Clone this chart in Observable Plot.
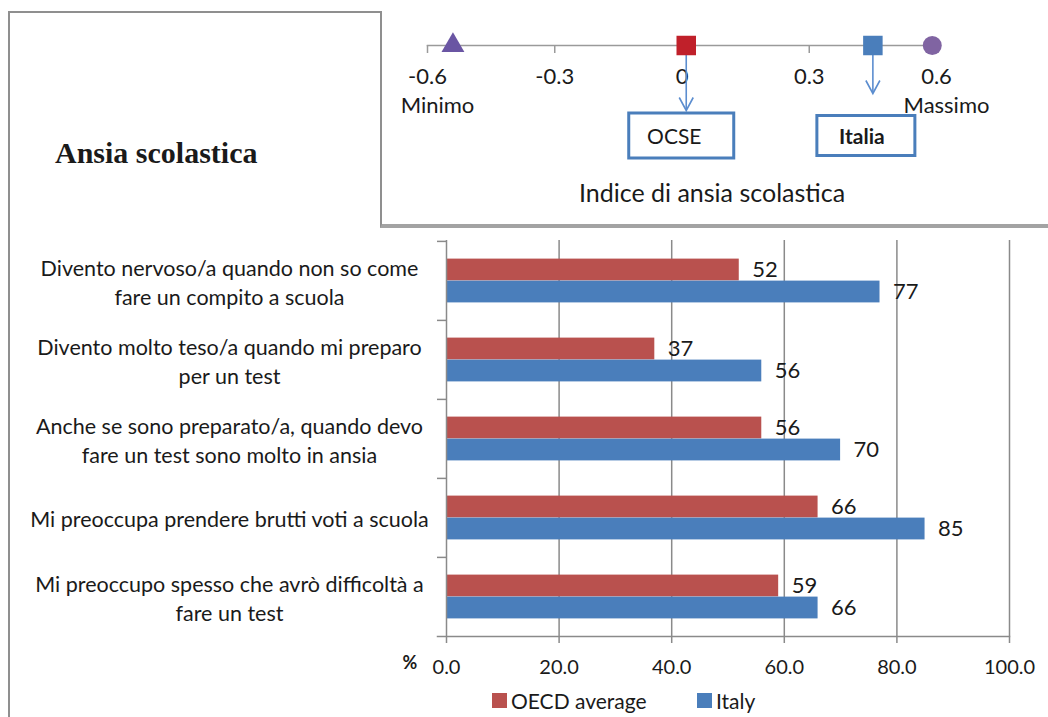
<!DOCTYPE html>
<html>
<head>
<meta charset="utf-8">
<script src="https://cdn.jsdelivr.net/npm/d3@7"></script>
<script src="https://cdn.jsdelivr.net/npm/@observablehq/plot@0.6"></script>
<style>
  html, body { margin: 0; padding: 0; background: #fff; }
  #page { position: relative; width: 1048px; height: 717px; overflow: hidden; background: #fff; font-family: Lato, "Open Sans", sans-serif; color: #1a1a1a; }
  #outer { position: absolute; left: 8px; top: 11px; width: 1048px; height: 720px; border-left: 2px solid #8f8f8f; border-top: 2px solid #8f8f8f; }
  #main, #inset { position: absolute; }
  #main { left: 0; top: 0; }
  #insetBox { position: absolute; left: 380px; top: 11px; width: 680px; height: 213px; border-left: 2px solid #8f8f8f; border-bottom: 4px solid #a3a3a3; background: #fff; }
  #inset { left: 380px; top: 12px; }
  #title { position: absolute; left: 55px; top: 136px; font-family: "Liberation Serif", serif; font-weight: bold; font-size: 30px; color: #1a1a1a; white-space: nowrap; }
  .leg { position: absolute; top: 688px; font-size: 21px; display: flex; align-items: center; white-space: nowrap; }
  .sw { width: 15px; height: 15px; margin-right: 4px; display: inline-block; }
</style>
</head>
<body>
<div id="page">
  <div id="outer"></div>
  <div id="main"></div>
  <div id="insetBox"></div>
  <div id="inset"></div>
  <div id="title">Ansia scolastica</div>
  <div id="legend"></div>
</div>
<script>
// ---------- data ----------
const categories = [
  "Divento nervoso/a quando non so come\nfare un compito a scuola",
  "Divento molto teso/a quando mi preparo\nper un test",
  "Anche se sono preparato/a, quando devo\nfare un test sono molto in ansia",
  "Mi preoccupa prendere brutti voti a scuola",
  "Mi preoccupo spesso che avrò difficoltà a\nfare un test"
];
const seriesNames = ["OECD average", "Italy"];
const oecdValues = [52, 37, 56, 66, 59];
const italyValues = [77, 56, 70, 85, 66];
const xTicks = [0, 20, 40, 60, 80, 100];
const axisUnit = "%";

// inset (index scale)
const insetTicks = [-0.6, -0.3, 0, 0.3, 0.6];
const insetTickLabels = ["-0.6", "-0.3", "0", "0.3", "0.6"];
const extremeNames = ["Minimo", "Massimo"];
const extremeValues = [-0.6, 0.6];
const markerNames = ["Minimo", "OCSE", "Italia", "Massimo"];
const markerValues = [-0.54, 0.01, 0.45, 0.59];
const pointerNames = ["OCSE", "Italia"];
const pointerValues = [0.01, 0.45];
const insetTitle = "Indice di ansia scolastica";

// ---------- styles ----------
const FONT = "Lato, 'Open Sans', sans-serif";
const seriesColors = ["#B9514E", "#4A7EBB"];
const markerShapes = ["triangle", "square", "square", "circle"];
const markerColors = ["#6A55A3", "#C0202A", "#4A7EBB", "#8064A2"];
const markerRadius = [8.5, 11, 11, 9.5];
const gridColor = "#8a8a8a";

// ---------- main chart ----------
const rows = [];
categories.forEach((c, i) => {
  rows.push({category: c, series: seriesNames[0], value: oecdValues[i]});
  rows.push({category: c, series: seriesNames[1], value: italyValues[i]});
});

const W = 1048, H = 717, mTop = 240, mBottom = 81, mLeft = 446, mRight = 39;
const step = (H - mTop - mBottom) / categories.length;
const barH = 22;
const half = step / 2;

const main = Plot.plot({
  width: W, height: H,
  marginTop: mTop, marginBottom: mBottom, marginLeft: mLeft, marginRight: mRight,
  style: {fontFamily: FONT, fontSize: "20px", color: "#1a1a1a", background: "transparent", overflow: "visible"},
  x: {domain: [xTicks[0], xTicks[xTicks.length - 1]]},
  y: {domain: categories, padding: 0},
  marks: [
    Plot.gridX(xTicks.slice(1), {stroke: gridColor, strokeOpacity: 1, strokeWidth: 1.5}),
    Plot.barX(rows.filter(d => d.series === seriesNames[0]), {
      y: "category", x: "value", fill: seriesColors[0],
      insetTop: half - barH, insetBottom: half
    }),
    Plot.barX(rows.filter(d => d.series === seriesNames[1]), {
      y: "category", x: "value", fill: seriesColors[1],
      insetTop: half, insetBottom: half - barH
    }),
    Plot.text(rows.filter(d => d.series === seriesNames[0]), {
      y: "category", x: "value", text: d => String(d.value),
      textAnchor: "start", dx: 13, dy: -barH / 2, fontSize: 22
    }),
    Plot.text(rows.filter(d => d.series === seriesNames[1]), {
      y: "category", x: "value", text: d => String(d.value),
      textAnchor: "start", dx: 13, dy: barH / 2, fontSize: 22
    }),
    Plot.ruleX([xTicks[0]], {stroke: gridColor, strokeWidth: 1.5}),
    Plot.frame({anchor: "bottom", insetLeft: -9, stroke: gridColor, strokeWidth: 1.5}),
    Plot.axisY({tickSize: 0, tickPadding: 0, textAnchor: "middle", dx: -217, lineHeight: 1.35, fontSize: 21.5, label: null}),
    Plot.axisY({tickSize: 9, tickFormat: () => "", dy: -half, stroke: gridColor, strokeWidth: 1.5, label: null}),
    Plot.axisX({ticks: xTicks, tickFormat: d3.format(".1f"), tickSize: 7, tickPadding: 16, stroke: gridColor, strokeWidth: 1.5, fontSize: 20, label: null}),
    Plot.text([axisUnit], {frameAnchor: "bottom-left", lineAnchor: "middle", dx: -44, dy: 27, fontWeight: "bold", fontSize: 18})
  ]
});
document.getElementById("main").appendChild(main);

// ---------- inset ----------
const IW = 668, IH = 212, iTop = 33, iBottom = 114, iLeft = 47, iRight = 112;
const frameH = IH - iTop - iBottom;
const vHead = {draw(ctx) { ctx.moveTo(-7, -13); ctx.lineTo(0, 0); ctx.lineTo(7, -13); }};
const boxSym = (w, h) => ({draw(ctx) { ctx.moveTo(-w/2, -h/2); ctx.lineTo(w/2, -h/2); ctx.lineTo(w/2, h/2); ctx.lineTo(-w/2, h/2); ctx.closePath(); }});
const arrowColor = "#5B8DCF";
const pointerLen = [0, 17];   // bottom inset of each pointer arrow
const boxSize = [[105, 45], [98, 40]];
const boxDx = [-5, -7];
const labelDx = [-12, -11];
const labelWeight = ["normal", "bold"];

const pointerMarks = [];
pointerNames.forEach((n, i) => {
  const d = [{name: n, value: pointerValues[i]}];
  pointerMarks.push(
    Plot.ruleX(d, {x: "value", insetTop: 10, insetBottom: pointerLen[i], stroke: arrowColor, strokeWidth: 1.6}),
    Plot.dot(d, {x: "value", frameAnchor: "bottom", dy: -pointerLen[i], symbol: vHead, r: 5, fill: "none", stroke: arrowColor, strokeWidth: 1.6}),
    Plot.dot(d, {x: "value", frameAnchor: "bottom", dy: 25, dx: boxDx[i], symbol: boxSym(...boxSize[i]), r: 5, fill: "none", stroke: "#4A7EBB", strokeWidth: 3}),
    Plot.text(d, {x: "value", text: "name", frameAnchor: "bottom", lineAnchor: "middle", dy: 27, dx: labelDx[i], fontSize: 21, fontWeight: labelWeight[i]})
  );
});

const markerMarks = markerNames.map((n, i) =>
  Plot.dot([{name: n, value: markerValues[i]}], {
    x: "value", frameAnchor: "top", symbol: markerShapes[i], r: markerRadius[i], fill: markerColors[i], stroke: "none"
  })
);

const inset = Plot.plot({
  width: IW, height: IH,
  marginTop: iTop, marginBottom: iBottom, marginLeft: iLeft, marginRight: iRight,
  style: {fontFamily: FONT, fontSize: "22px", color: "#1a1a1a", background: "transparent", overflow: "visible"},
  x: {domain: [insetTicks[0], insetTicks[insetTicks.length - 1]], axis: null},
  marks: [
    Plot.frame({anchor: "top", stroke: "#9a9a9a", strokeWidth: 1.5}),
    Plot.ruleX(insetTicks, {x: d => d, insetBottom: frameH - 8, stroke: "#9a9a9a", strokeWidth: 1.5}),
    Plot.text(insetTicks, {x: d => d, text: (d, i) => insetTickLabels[i], frameAnchor: "top", lineAnchor: "middle", dy: 31, fontSize: 22}),
    Plot.text(extremeNames.map((n, i) => ({name: n, value: extremeValues[i]})), {x: "value", text: "name", frameAnchor: "top", lineAnchor: "middle", dy: 60, dx: 10, fontSize: 22}),
    ...pointerMarks,
    ...markerMarks,
    Plot.text([insetTitle], {frameAnchor: "bottom", lineAnchor: "middle", dx: 30, dy: 83, fontSize: 25})
  ]
});
document.getElementById("inset").appendChild(inset);

// ---------- legend ----------
const legend = document.getElementById("legend");
const legendLeft = [492, 697];
seriesNames.forEach((s, i) => {
  const el = document.createElement("div");
  el.className = "leg";
  el.style.left = legendLeft[i] + "px";
  el.innerHTML = `<span class="sw" style="background:${seriesColors[i]}"></span><span>${s}</span>`;
  legend.appendChild(el);
});
</script>
</body>
</html>
